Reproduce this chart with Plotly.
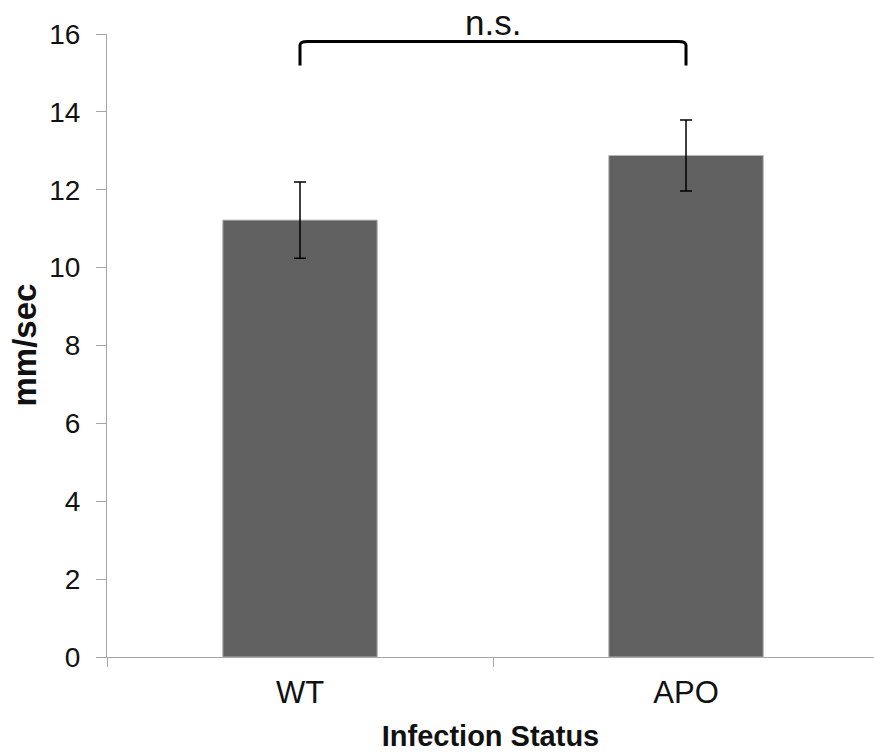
import plotly.graph_objects as go

categories = ["WT", "APO"]
means = [11.22, 12.88]
sem = [0.98, 0.91]
y_ticks = [0, 2, 4, 6, 8, 10, 12, 14, 16]

bracket_low = 15.19
bracket_high = 15.81
sig_label = "n.s."

FONT = "Liberation Sans, Arial, sans-serif"
AXIS_COLOR = "#a6a6a6"

fig = go.Figure()
fig.add_trace(go.Bar(
    x=categories,
    y=means,
    width=0.40,
    marker=dict(color="#616161", line=dict(color="#b5b5b5", width=1)),
    error_y=dict(type="data", array=sem, visible=True, color="black",
                 thickness=1.5, width=6),
    showlegend=False,
))

# significance bracket between the two bar centres
fig.add_shape(
    type="path",
    xref="x", yref="y",
    path=(f"M 0,{bracket_low} L 0,{bracket_high - 0.1} "
          f"Q 0,{bracket_high} 0.02,{bracket_high} "
          f"L 0.98,{bracket_high} Q 1,{bracket_high} 1,{bracket_high - 0.1} "
          f"L 1,{bracket_low}"),
    line=dict(color="black", width=3),
)
fig.add_annotation(
    x=0.5, y=bracket_high, xref="x", yref="y",
    text=sig_label, showarrow=False,
    yanchor="bottom", yshift=-3,
    font=dict(family=FONT, size=35, color="#111111"),
)
# y-axis title
fig.add_annotation(
    x=0, y=0.5, xref="paper", yref="paper",
    xshift=-83, textangle=-90,
    text="<b>mm/sec</b>", showarrow=False,
    xanchor="center", yanchor="middle",
    font=dict(family=FONT, size=33, color="#111111"),
)

fig.update_layout(
    width=874, height=754,
    margin=dict(l=107, r=0, t=34, b=97, autoexpand=False),
    plot_bgcolor="white", paper_bgcolor="white",
    bargap=0.6,
    xaxis=dict(
        range=[-0.5, 1.487],
        automargin=False,
        tickson="boundaries",
        ticks="outside", ticklen=9, tickcolor=AXIS_COLOR, tickwidth=1,
        ticklabelstandoff=8,
        showline=True, linecolor=AXIS_COLOR, linewidth=1,
        showgrid=False, zeroline=False,
        tickfont=dict(family=FONT, size=31, color="#111111"),
        title=dict(text="<b>Infection Status</b>", standoff=16,
                   font=dict(family=FONT, size=29, color="#111111")),
    ),
    yaxis=dict(
        range=[0, 16],
        automargin=False,
        tickvals=y_ticks,
        ticks="outside", ticklen=10, tickcolor=AXIS_COLOR, tickwidth=1,
        ticklabelstandoff=10,
        showline=True, linecolor=AXIS_COLOR, linewidth=1,
        showgrid=False, zeroline=False,
        tickfont=dict(family=FONT, size=28, color="#111111"),
    ),
)

fig.write_html(
    "out.html",
    config={"displayModeBar": False},
    post_script="document.body.style.margin='0px';",
)
